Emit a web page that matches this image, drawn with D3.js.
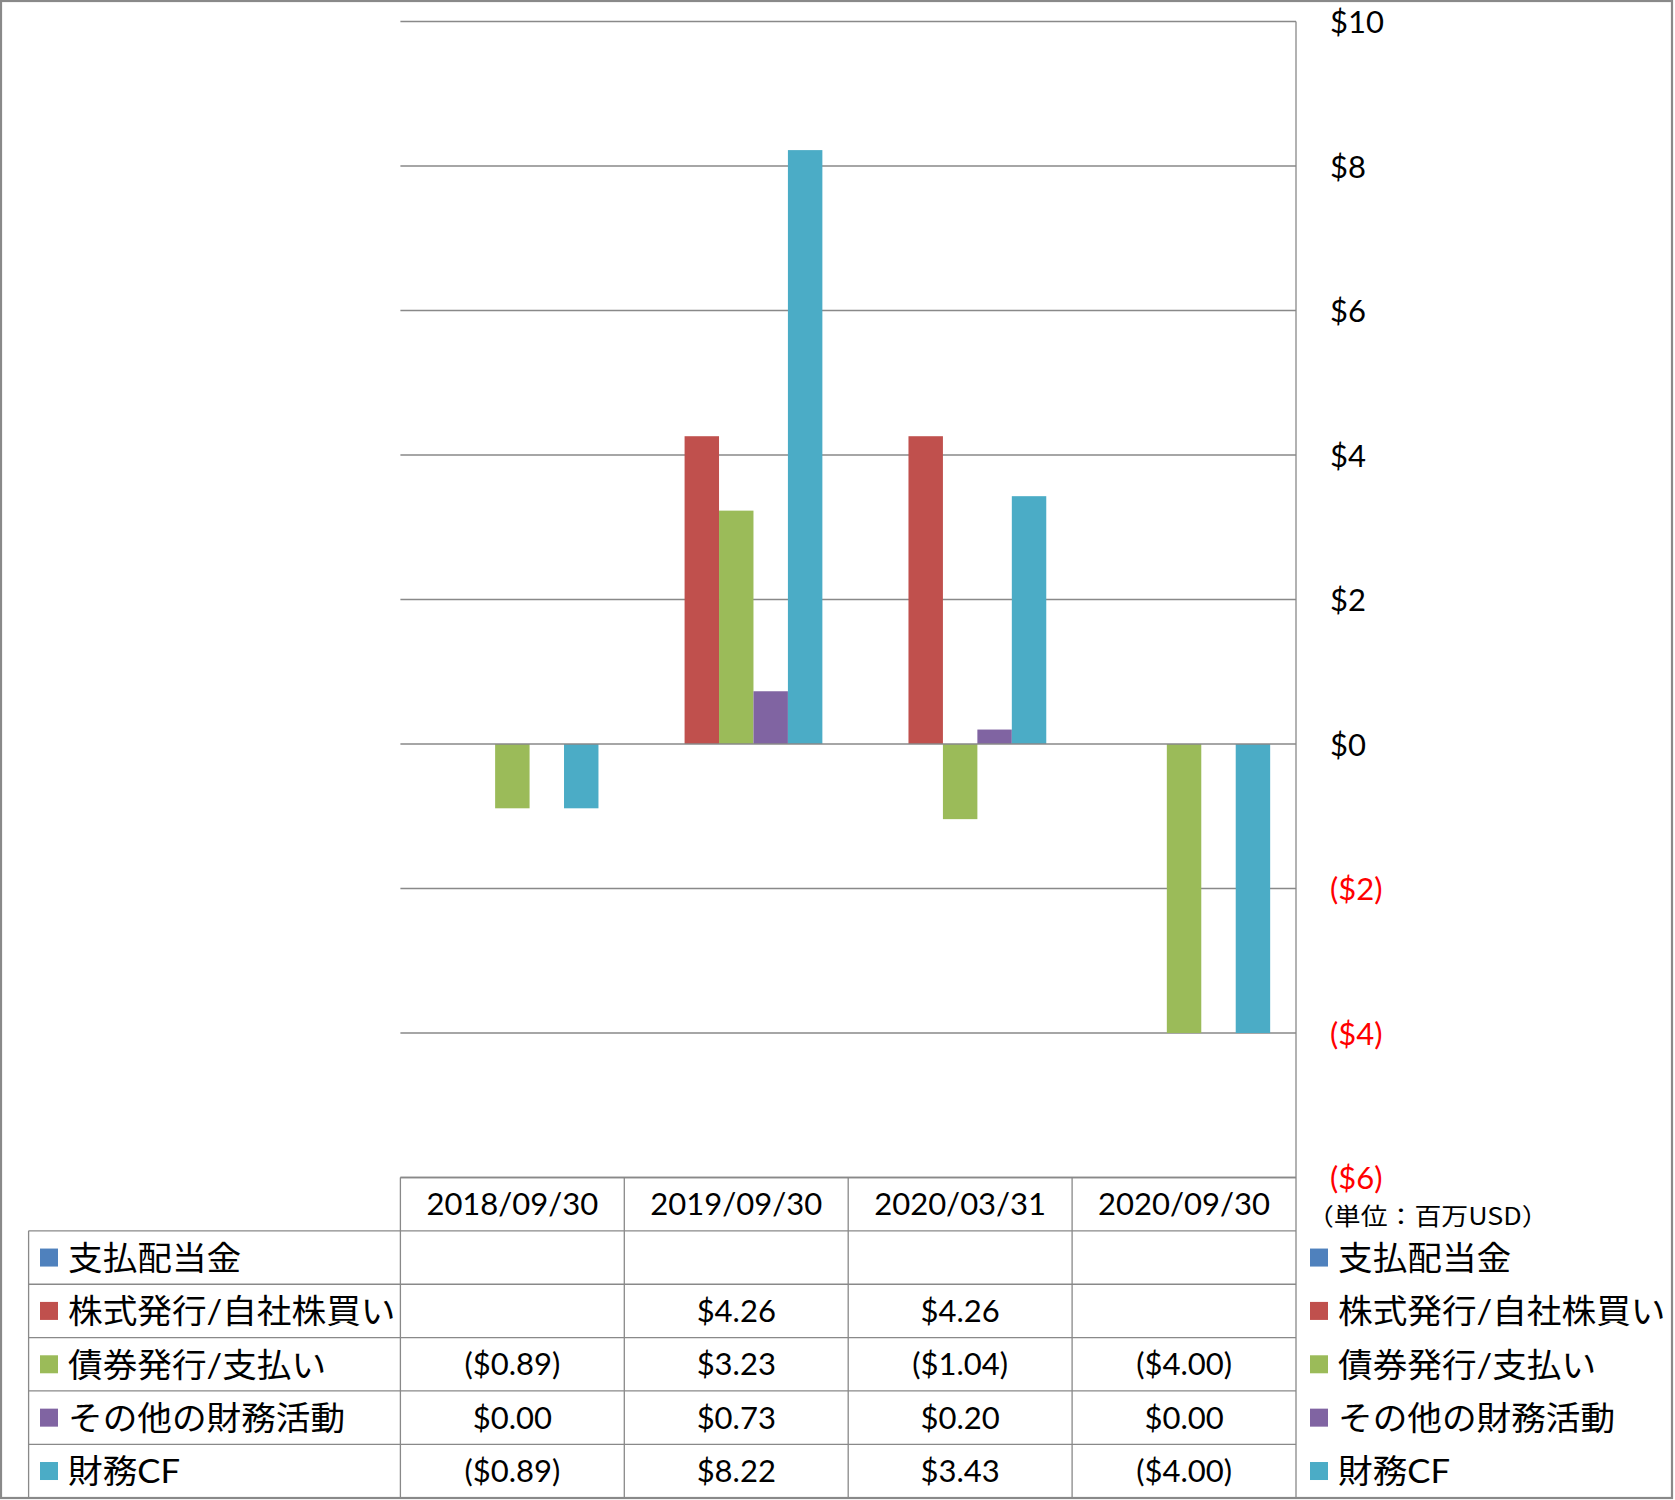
<!DOCTYPE html>
<html>
<head>
<meta charset="utf-8">
<script src="https://cdn.jsdelivr.net/npm/d3@7"></script>
<style>
  html, body { margin: 0; padding: 0; background: #fff; }
  svg { display: block; }
</style>
</head>
<body>
<svg id="chart" width="1675" height="1500"></svg>
<script>
// ---- data ----
const categories = ["2018/09/30", "2019/09/30", "2020/03/31", "2020/09/30"];
const seriesNames = ["支払配当金", "株式発行/自社株買い", "債券発行/支払い", "その他の財務活動", "財務CF"];
const dividendsPaid = [null, null, null, null];
const stockIssuance = [null, 4.26, 4.26, null];
const debtIssuance = [-0.89, 3.23, -1.04, -4.00];
const otherFinancing = [0.00, 0.73, 0.20, 0.00];
const financingCF = [-0.89, 8.22, 3.43, -4.00];
const seriesColors = ["#4F81BD", "#C0504D", "#9BBB59", "#8064A2", "#4BACC6"];
const yTicks = [-6, -4, -2, 0, 2, 4, 6, 8, 10];
const unitLabel = "（単位：百万USD）";

const seriesValues = [dividendsPaid, stockIssuance, debtIssuance, otherFinancing, financingCF];

// ---- layout ----
const latinFont = "Lato, 'Noto Sans CJK JP', sans-serif";
const cjkFont = "'Noto Sans CJK JP', sans-serif";
const svg = d3.select("#chart");
const plotLeft = 400.4, plotRight = 1296, plotTop = 21.5, plotBottom = 1177.5;
const tableBottom = 1497.7, tableLeft = 28.6;
const gridColor = "#898989";

const x = d3.scaleBand().domain(categories).range([plotLeft, plotRight]).paddingInner(0).paddingOuter(0);
const xs = d3.scaleBand().domain(seriesNames).range([0, x.bandwidth()]).paddingInner(0).paddingOuter(0.75);
const y = d3.scaleLinear().domain([-6, 10]).range([plotBottom, plotTop]);
const rowKeys = ["header"].concat(seriesNames);
const rows = d3.scaleBand().domain(rowKeys).range([plotBottom, tableBottom]);

const fmtMoney = v => {
  if (v === null || v === undefined) return "";
  const s = "$" + Math.abs(v).toFixed(2);
  return v < 0 ? "(" + s + ")" : s;
};
const fmtTick = v => v < 0 ? "($" + Math.abs(v) + ")" : "$" + v;

// gridlines (except zero, drawn on top)
svg.append("g").selectAll("line").data(yTicks.filter(t => t !== 0)).join("line")
  .attr("x1", plotLeft).attr("x2", plotRight)
  .attr("y1", d => y(d)).attr("y2", d => y(d))
  .attr("stroke", gridColor).attr("stroke-width", 1.3);

// bars
const barData = [];
seriesValues.forEach((vals, si) => {
  vals.forEach((v, ci) => {
    if (v !== null) barData.push({ s: seriesNames[si], c: categories[ci], v: v, color: seriesColors[si] });
  });
});
svg.append("g").selectAll("rect").data(barData).join("rect")
  .attr("x", d => x(d.c) + xs(d.s))
  .attr("width", xs.bandwidth())
  .attr("y", d => Math.min(y(d.v), y(0)))
  .attr("height", d => Math.abs(y(d.v) - y(0)))
  .attr("fill", d => d.color);

// zero line
svg.append("line")
  .attr("x1", plotLeft).attr("x2", plotRight)
  .attr("y1", y(0)).attr("y2", y(0))
  .attr("stroke", gridColor).attr("stroke-width", 1.3);

// right axis labels
const axis = d3.axisRight(y).tickValues(yTicks).tickSize(0).tickPadding(34).tickFormat(fmtTick);
const axisG = svg.append("g").attr("transform", `translate(${plotRight},0)`).call(axis);
axisG.select(".domain").remove();
axisG.attr("font-family", null).attr("font-size", null);
axisG.selectAll("text")
  .style("font-family", latinFont)
  .style("font-size", "31px")
  .attr("dy", "0.36em")
  .style("fill", d => d < 0 ? "#FF0000" : "#000");

// table lines
const tg = svg.append("g").attr("stroke", gridColor).attr("stroke-width", 1.3);
tg.append("line").attr("x1", plotLeft).attr("x2", plotRight).attr("y1", rows("header")).attr("y2", rows("header"));
seriesNames.forEach(n => {
  tg.append("line").attr("x1", tableLeft).attr("x2", plotRight).attr("y1", rows(n)).attr("y2", rows(n));
});
tg.append("line").attr("x1", tableLeft).attr("x2", plotRight).attr("y1", tableBottom).attr("y2", tableBottom);
tg.append("line").attr("x1", tableLeft).attr("x2", tableLeft).attr("y1", rows(seriesNames[0])).attr("y2", tableBottom);
categories.forEach(c => {
  tg.append("line").attr("x1", x(c)).attr("x2", x(c)).attr("y1", rows("header")).attr("y2", tableBottom);
});
tg.append("line").attr("x1", plotRight).attr("x2", plotRight).attr("y1", plotTop).attr("y2", tableBottom);

const rowMid = k => rows(k) + rows.bandwidth() / 2;

// header texts
svg.append("g").selectAll("text").data(categories).join("text")
  .attr("x", d => x(d) + x.bandwidth() / 2)
  .attr("y", rowMid("header"))
  .attr("dy", "0.36em")
  .attr("text-anchor", "middle")
  .style("font-family", latinFont).style("font-size", "31px").style("fill", "#000")
  .text(d => d);

// stretched label helper (reference text is horizontally widened)
const labelSX = 1.05;
function stretchedLabel(g, px, py, txt) {
  g.append("text")
    .attr("transform", `translate(${px},${py}) scale(${labelSX},1)`)
    .attr("dy", "0.37em")
    .style("font-family", latinFont).style("font-size", "33px").style("fill", "#000")
    .text(txt);
}

// row labels with swatches
const rl = svg.append("g");
seriesNames.forEach((n, i) => {
  rl.append("rect").attr("x", 40).attr("y", rowMid(n) - 9).attr("width", 18).attr("height", 18).attr("fill", seriesColors[i]);
  stretchedLabel(rl, 68, rowMid(n), n);
});

// values
seriesNames.forEach((n, si) => {
  svg.append("g").selectAll("text").data(categories).join("text")
    .attr("x", d => x(d) + x.bandwidth() / 2)
    .attr("y", rowMid(n))
    .attr("dy", "0.36em")
    .attr("text-anchor", "middle")
    .style("font-family", latinFont).style("font-size", "31px").style("fill", "#000")
    .text((d, ci) => fmtMoney(seriesValues[si][ci]));
});

// unit label
svg.append("text")
  .attr("transform", "translate(1307,1216) scale(1.12,1)")
  .attr("dy", "0.37em")
  .style("font-family", cjkFont).style("font-size", "24px").style("fill", "#000")
  .text(unitLabel);

// right legend
const lg = svg.append("g");
seriesNames.forEach((n, i) => {
  lg.append("rect").attr("x", 1310).attr("y", rowMid(n) - 9).attr("width", 18).attr("height", 18).attr("fill", seriesColors[i]);
  stretchedLabel(lg, 1338, rowMid(n), n);
});

// outer frame
svg.append("rect").attr("x", 1).attr("y", 1).attr("width", 1671).attr("height", 1497)
  .attr("fill", "none").attr("stroke", gridColor).attr("stroke-width", 2.2);
</script>
</body>
</html>
